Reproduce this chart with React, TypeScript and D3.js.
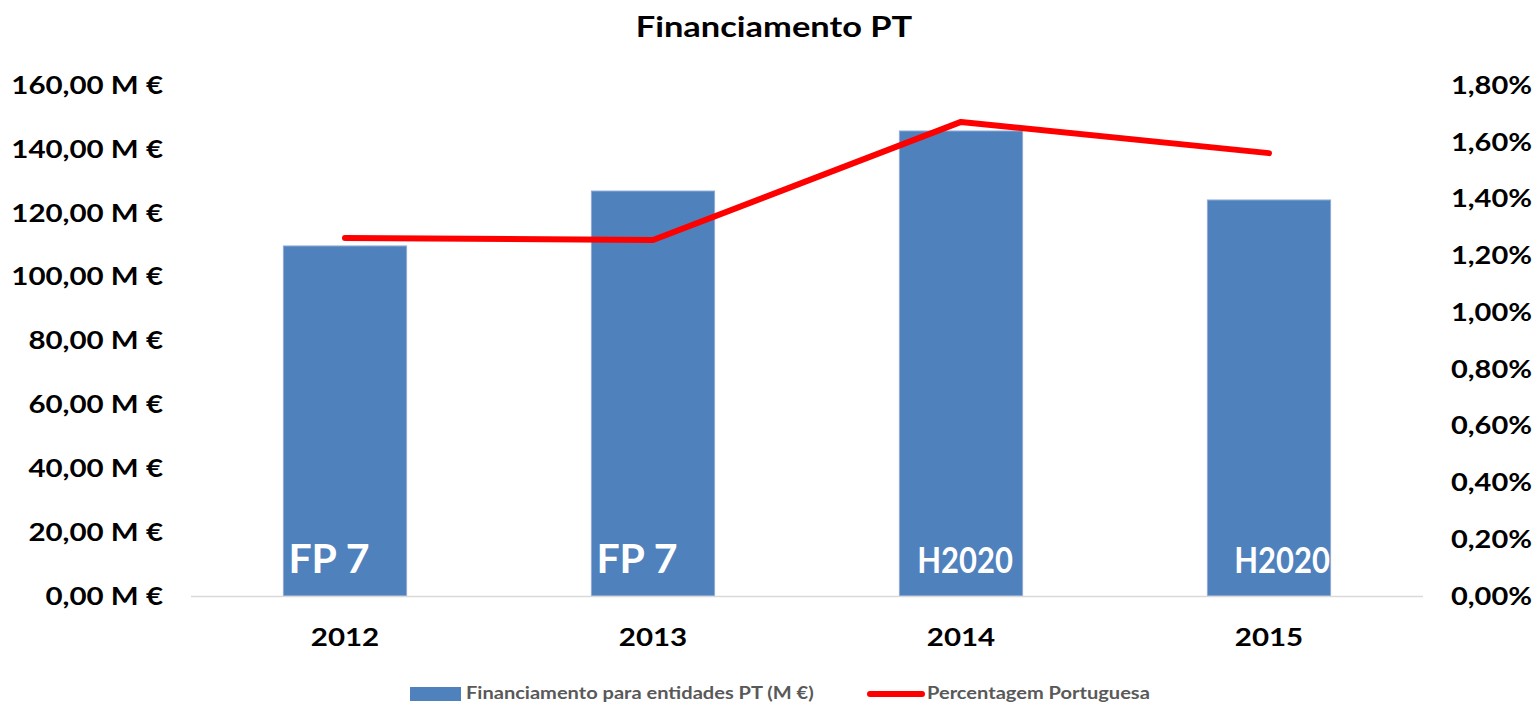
import React from "react";
import * as d3 from "d3";

const title = "Financiamento PT";
const years = ["2012", "2013", "2014", "2015"];
const funding = [109.6, 126.8, 145.6, 124.0];
const percent = [1.261, 1.254, 1.67, 1.56];
const programs = ["FP 7", "FP 7", "H2020", "H2020"];
const leftTicks = [0, 20, 40, 60, 80, 100, 120, 140, 160];
const rightTicks = [0, 0.2, 0.4, 0.6, 0.8, 1.0, 1.2, 1.4, 1.6, 1.8];
const seriesNames = ["Financiamento para entidades PT (M €)", "Percentagem Portuguesa"];

const W = 1538, H = 704;
const plotLeft = 191, plotRight = 1423, plotTop = 85, plotBottom = 596;
const FONT = "Lato, 'Open Sans', sans-serif";

type STProps = {
  x: number; y: number; sx: number; children: React.ReactNode;
  anchor?: "start" | "middle" | "end"; size: number; fill?: string; dy?: string;
};
function SText({ x, y, sx, children, anchor = "start", size, fill = "#000", dy }: STProps) {
  return (
    <text transform={`translate(${x},${y}) scale(${sx},1)`} dy={dy} textAnchor={anchor} fontSize={size} fontWeight="bold" fill={fill}>
      {children}
    </text>
  );
}

export default function App() {
  const x = d3.scaleBand<string>().domain(years).range([plotLeft, plotRight]).paddingInner(0.6).paddingOuter(0.3);
  const yL = d3.scaleLinear().domain([0, 160]).range([plotBottom, plotTop]);
  const yR = d3.scaleLinear().domain([0, 1.8]).range([plotBottom, plotTop]);
  const fmtL = (v: number) => d3.format(".2f")(v).replace(".", ",") + " M €";
  const fmtR = (v: number) => d3.format(".2f")(v).replace(".", ",") + "%";
  const line = d3.line<number>()
    .x((_, i) => (x(years[i]) as number) + x.bandwidth() / 2)
    .y((d) => yR(d));

  return (
    <svg width={W} height={H} style={{ position: "absolute", left: 0, top: 0, background: "#fff" }} fontFamily={FONT}>
      <SText x={774} y={37} sx={1.23} anchor="middle" size={28}>{title}</SText>
      {leftTicks.map((t) => (
        <SText key={"l" + t} x={163} y={yL(t)} dy="0.35em" anchor="end" sx={1.18} size={25}>{fmtL(t)}</SText>
      ))}
      {rightTicks.map((t) => (
        <SText key={"r" + t} x={1451} y={yR(t)} dy="0.35em" anchor="start" sx={1.16} size={25}>{fmtR(t)}</SText>
      ))}
      {years.map((yr, i) => (
        <g key={yr}>
          <rect x={x(yr)} y={yL(funding[i])} width={x.bandwidth()} height={plotBottom - yL(funding[i])} fill="#4F81BD" stroke="#8EAAD6" strokeWidth={1} />
          <SText x={(x(yr) as number) + x.bandwidth() / 2} y={646} anchor="middle" sx={1.18} size={25}>{yr}</SText>
        </g>
      ))}
      {years.map((yr, i) => {
        const isFP = programs[i].startsWith("FP");
        const cx = (x(yr) as number) + x.bandwidth() / 2;
        return (
          <SText key={"p" + yr} x={isFP ? cx - 16 : cx + 4 + (i === 3 ? 9 : 0)} y={573} anchor="middle" sx={isFP ? 1 : 0.86} size={isFP ? 41 : 36} fill="#fff">{programs[i]}</SText>
        );
      })}
      <line x1={plotLeft} x2={plotRight} y1={plotBottom + 0.5} y2={plotBottom + 0.5} stroke="#D9D9D9" strokeWidth={1.5} />
      <path d={line(percent) as string} fill="none" stroke="#FF0000" strokeWidth={6} strokeLinecap="round" strokeLinejoin="round" />
      <rect x={410} y={687} width={51} height={14} fill="#4F81BD" />
      <SText x={466} y={699} sx={1.18} size={17} fill="#595959">{seriesNames[0]}</SText>
      <line x1={870} x2={922} y1={694} y2={694} stroke="#FF0000" strokeWidth={6} strokeLinecap="round" />
      <SText x={927} y={699} sx={1.18} size={17} fill="#595959">{seriesNames[1]}</SText>
    </svg>
  );
}
